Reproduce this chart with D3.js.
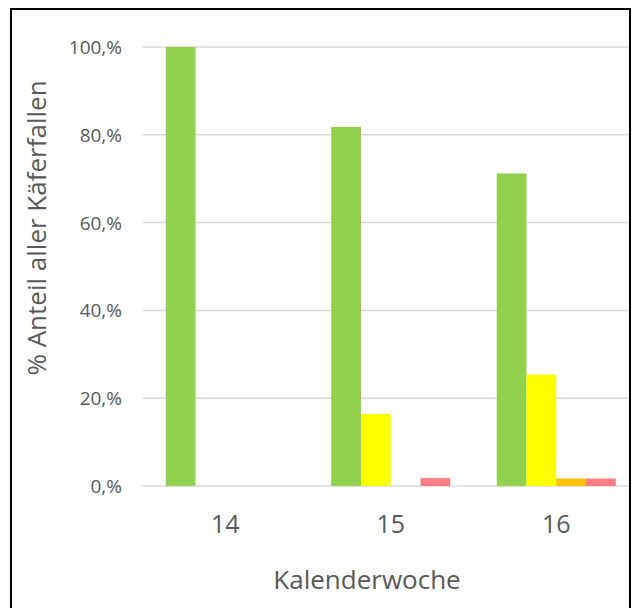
<!DOCTYPE html>
<html>
<head>
<meta charset="utf-8">
<script src="https://cdn.jsdelivr.net/npm/d3@7"></script>
<style>
  html, body { margin: 0; padding: 0; background: #fff; }
  svg { display: block; }
  text { font-family: "Open Sans", "Noto Sans", sans-serif; fill: #595959; }
</style>
</head>
<body>
<svg id="chart" width="632" height="608"></svg>
<script>
// ---- data ----
const categories = ["14", "15", "16"];
const seriesNames = ["grün", "gelb", "orange", "rot"];
const seriesColors = ["#92D050", "#FFFF00", "#FFC000", "#FF7C80"];
const greenValues  = [100, 81.8, 71.2];
const yellowValues = [0, 16.4, 25.4];
const orangeValues = [0, 0, 1.7];
const redValues    = [0, 1.8, 1.7];
const yTicks = [0, 20, 40, 60, 80, 100];
const yTickLabels = ["0,%", "20,%", "40,%", "60,%", "80,%", "100,%"];
const xTitle = "Kalenderwoche";
const yTitle = "% Anteil aller Käferfallen";

const seriesValues = [greenValues, yellowValues, orangeValues, redValues];

const svg = d3.select("#chart");
const W = 632, H = 608;

// outer frame
svg.append("rect")
  .attr("x", 11).attr("y", 9)
  .attr("width", 619).attr("height", 620)
  .attr("fill", "#fff").attr("stroke", "#000").attr("stroke-width", 2);

const plotLeft = 142.5, plotRight = 639, y0 = 486, y100 = 47;

const clip = svg.append("defs").append("clipPath").attr("id", "clip")
  .append("rect").attr("x", 0).attr("y", 0).attr("width", 629).attr("height", H);

const x = d3.scaleBand().domain(categories)
  .range([plotLeft, plotRight])
  .paddingInner(0.281).paddingOuter(0.1405);
const xs = d3.scaleBand().domain(seriesNames).range([0, x.bandwidth()]).padding(0);
const y = d3.scaleLinear().domain([0, 100]).range([y0, y100]);

const g = svg.append("g").attr("clip-path", "url(#clip)");

// gridlines
g.selectAll("line.grid").data(yTicks).join("line")
  .attr("class", "grid")
  .attr("x1", plotLeft).attr("x2", plotRight)
  .attr("y1", d => y(d)).attr("y2", d => y(d))
  .attr("stroke", "#d9d9d9").attr("stroke-width", 1.5);

// tick labels
svg.selectAll("text.ytick").data(yTicks).join("text")
  .attr("class", "ytick")
  .attr("x", 122).attr("y", d => y(d))
  .attr("text-anchor", "end").attr("dominant-baseline", "central")
  .style("font-size", "19px")
  .text((d, i) => yTickLabels[i]);

// bars
const groups = g.selectAll("g.cat").data(categories).join("g")
  .attr("class", "cat")
  .attr("transform", d => `translate(${x(d)},0)`);

groups.selectAll("rect").data((c, ci) => seriesNames.map((s, si) => ({s, si, v: seriesValues[si][ci]})))
  .join("rect")
  .filter(d => d.v > 0)
  .attr("x", d => xs(d.s))
  .attr("width", xs.bandwidth())
  .attr("y", d => y(d.v))
  .attr("height", d => y(0) - y(d.v))
  .attr("fill", d => seriesColors[d.si]);

// category labels
svg.selectAll("text.xcat").data(categories).join("text")
  .attr("class", "xcat")
  .attr("x", d => x(d) + x.bandwidth() / 2)
  .attr("y", 533)
  .attr("text-anchor", "middle")
  .style("font-size", "25px")
  .text(d => d);

// x title
svg.append("text")
  .attr("x", 367).attr("y", 589)
  .attr("text-anchor", "middle")
  .style("font-size", "26px")
  .text(xTitle);

// y title
svg.append("text")
  .attr("transform", "translate(46,228) rotate(-90)")
  .attr("text-anchor", "middle")
  .style("font-size", "26px")
  .text(yTitle);
</script>
</body>
</html>
